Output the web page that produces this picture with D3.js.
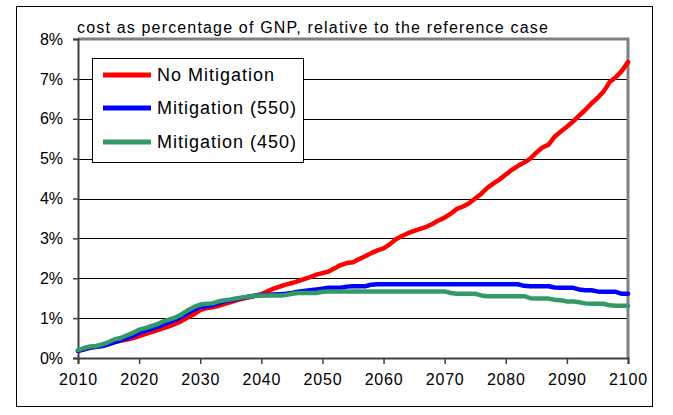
<!DOCTYPE html>
<html><head><meta charset="utf-8">
<script src="https://cdn.jsdelivr.net/npm/d3@7"></script>
<style>
html,body{margin:0;padding:0;background:#fff;}
svg{display:block;font-family:"Liberation Sans",Arial,sans-serif;}
</style></head>
<body>
<svg id="chart" width="673" height="415"></svg>
<script>
const years = d3.range(2010, 2101);
const noMitigation = [0.18,0.22,0.26,0.28,0.31,0.35,0.40,0.43,0.46,0.50,
0.55,0.60,0.65,0.70,0.75,0.80,0.86,0.93,1.02,1.10,
1.20,1.25,1.27,1.31,1.36,1.40,1.45,1.49,1.52,1.56,
1.60,1.67,1.74,1.79,1.84,1.88,1.93,1.98,2.03,2.09,
2.13,2.17,2.25,2.33,2.38,2.40,2.48,2.55,2.63,2.70,
2.75,2.85,2.98,3.06,3.13,3.19,3.24,3.29,3.36,3.45,
3.52,3.62,3.74,3.80,3.88,4.00,4.12,4.27,4.38,4.48,
4.60,4.72,4.82,4.90,5.00,5.15,5.28,5.35,5.55,5.68,
5.80,5.93,6.08,6.22,6.38,6.52,6.68,6.92,7.04,7.20,7.42];
const mitigation550 = [0.18,0.22,0.26,0.28,0.30,0.35,0.40,0.45,0.50,0.56,
0.63,0.68,0.73,0.78,0.84,0.90,0.96,1.04,1.13,1.22,
1.28,1.30,1.32,1.38,1.42,1.45,1.48,1.51,1.54,1.56,
1.58,1.58,1.59,1.60,1.61,1.63,1.66,1.68,1.70,1.72,
1.74,1.76,1.76,1.76,1.79,1.80,1.80,1.80,1.84,1.85,
1.85,1.85,1.85,1.85,1.85,1.85,1.85,1.85,1.85,1.85,
1.85,1.85,1.85,1.85,1.85,1.85,1.85,1.85,1.85,1.85,
1.85,1.85,1.85,1.81,1.80,1.80,1.80,1.80,1.77,1.76,
1.76,1.76,1.72,1.70,1.70,1.67,1.66,1.66,1.66,1.61,1.61];
const mitigation450 = [0.20,0.25,0.29,0.30,0.34,0.40,0.47,0.50,0.57,0.63,
0.71,0.75,0.80,0.85,0.92,0.97,1.02,1.10,1.20,1.28,
1.34,1.36,1.37,1.42,1.45,1.47,1.50,1.52,1.54,1.56,
1.57,1.57,1.57,1.57,1.58,1.61,1.63,1.63,1.63,1.63,
1.66,1.67,1.67,1.67,1.67,1.67,1.67,1.67,1.67,1.67,
1.67,1.67,1.67,1.67,1.67,1.67,1.67,1.67,1.67,1.67,
1.67,1.63,1.61,1.61,1.61,1.61,1.57,1.55,1.55,1.55,
1.55,1.55,1.55,1.55,1.50,1.49,1.49,1.49,1.46,1.45,
1.42,1.42,1.40,1.37,1.36,1.36,1.36,1.32,1.31,1.31,1.31];
const seriesNames = ["No Mitigation","Mitigation (550)","Mitigation (450)"];
const seriesColors = ["#ff0000","#0000ff","#339966"];
const xTicks = [2010,2020,2030,2040,2050,2060,2070,2080,2090,2100];
const yTicks = [0,1,2,3,4,5,6,7,8];
const title = "cost as percentage of GNP, relative to the reference case";

const svg = d3.select("#chart");
const L = 78, R = 628, T = 39, B = 358;
const x = d3.scaleLinear().domain([2010,2100]).range([L,R]);
const y = d3.scaleLinear().domain([0,8]).range([B,T]);

// outer frame
svg.append("rect").attr("x",16.5).attr("y",6.5).attr("width",636).attr("height",400)
  .attr("fill","none").attr("stroke","#000").attr("stroke-width",1);

// gridlines
svg.append("g").selectAll("line").data(yTicks.filter(v=>v>0&&v<8)).join("line")
  .attr("x1",L).attr("x2",R).attr("y1",d=>Math.round(y(d))+0.5).attr("y2",d=>Math.round(y(d))+0.5)
  .attr("stroke","#000").attr("stroke-width",1);

// plot border top/right gray
svg.append("path").attr("d",`M${L},${T} H${R} V${B}`).attr("fill","none")
  .attr("stroke","#808080").attr("stroke-width",3);

// y axis
const yAxis = svg.append("g").attr("transform",`translate(${L},0)`)
  .call(d3.axisLeft(y).tickValues(yTicks).tickFormat(d=>d+"%").tickSize(5).tickPadding(10));
yAxis.select(".domain").attr("stroke","#404040").attr("stroke-width",2);
yAxis.selectAll(".tick line").attr("stroke","#404040").attr("stroke-width",1.5);
yAxis.selectAll("text").attr("font-size",16).attr("fill","#000")
  .attr("font-family","Liberation Sans, Arial, sans-serif");

// x axis
const xAxis = svg.append("g").attr("transform",`translate(0,${B})`)
  .call(d3.axisBottom(x).tickValues(xTicks).tickFormat(d3.format("d")).tickSize(6).tickPadding(10));
xAxis.select(".domain").attr("stroke","#404040").attr("stroke-width",2);
xAxis.selectAll(".tick line").attr("stroke","#404040").attr("stroke-width",1.5);
xAxis.selectAll("text").attr("font-size",16).attr("fill","#000").attr("letter-spacing","0.8px")
  .attr("font-family","Liberation Sans, Arial, sans-serif");

// lines
const seriesData = [noMitigation, mitigation550, mitigation450];
const line = d3.line().x((d,i)=>x(years[i])).y(d=>y(d));
svg.append("g").selectAll("path").data(seriesData).join("path")
  .attr("d",line).attr("fill","none")
  .attr("stroke",(d,i)=>seriesColors[i]).attr("stroke-width",4.5)
  .attr("stroke-linejoin","round").attr("stroke-linecap","round");

// title
const t = svg.append("text").attr("x",77).attr("y",33).attr("font-size",16).attr("fill","#000").text(title);
const w = t.node().getComputedTextLength();
t.attr("letter-spacing", ((471 - w)/(title.length-1)).toFixed(2)+"px");

// legend
const lg = svg.append("g");
lg.append("rect").attr("x",92.5).attr("y",58.5).attr("width",211).attr("height",104)
  .attr("fill","#fff").attr("stroke","#000").attr("stroke-width",1);
const ly = [75,108,142];
seriesNames.forEach((n,i)=>{
  lg.append("line").attr("x1",103).attr("x2",151).attr("y1",ly[i]).attr("y2",ly[i])
    .attr("stroke",seriesColors[i]).attr("stroke-width",5);
  lg.append("text").attr("x",157).attr("y",ly[i]+6).attr("font-size",18).attr("letter-spacing","1px")
    .attr("fill","#000").text(n);
});
</script>
</body></html>
